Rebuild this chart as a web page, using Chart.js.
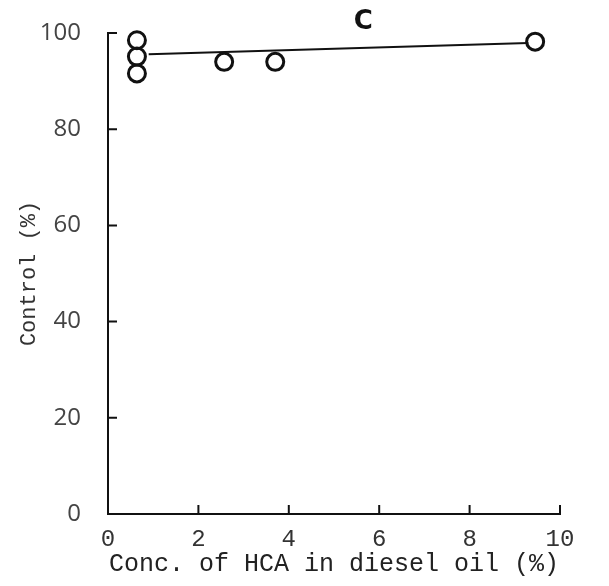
<!DOCTYPE html>
<html lang="en">
<head>
    <meta charset="UTF-8">
    <title>Control vs HCA concentration</title>
    <script src="https://cdn.jsdelivr.net/npm/chart.js"></script>
    <style>
        body {
            margin: 0;
            padding: 0;
            background-color: #fff;
        }

        .chart-box {
            width: 609px;
            height: 586px;
        }
    </style>
</head>
<body>
    <div class="chart-box">
        <canvas id="controlChart"></canvas>
    </div>

    <script>
        // observed points
        const concValues = [0.64, 0.64, 0.64, 2.57, 3.7, 9.45];
        const controlValues = [98.5, 95.1, 91.6, 94.0, 94.0, 98.2];

        // fitted line end points
        const fitConc = [0.9, 9.3];
        const fitControl = [95.6, 97.9];

        const xTicks = [0, 2, 4, 6, 8, 10];
        const yTicks = [0, 20, 40, 60, 80, 100];

        const panelLabel = 'C';

        // draws the little inward tick marks and the panel letter
        const inwardTicks = {
            id: 'inwardTicks',
            afterDraw(chart) {
                const ctx = chart.ctx;
                const x = chart.scales.x;
                const y = chart.scales.y;
                const area = chart.chartArea;
                ctx.save();
                ctx.strokeStyle = '#111';
                ctx.lineWidth = 2;
                ctx.beginPath();
                xTicks.forEach(v => {
                    if (v === 0) return;
                    const px = x.getPixelForValue(v);
                    ctx.moveTo(px, area.bottom);
                    ctx.lineTo(px, area.bottom - 9);
                });
                yTicks.forEach(v => {
                    if (v === 0) return;
                    const py = y.getPixelForValue(v);
                    ctx.moveTo(area.left, py);
                    ctx.lineTo(area.left + 9, py);
                });
                ctx.stroke();

                ctx.fillStyle = '#111';
                ctx.font = 'bold 26px "DejaVu Sans"';
                ctx.textAlign = 'center';
                ctx.textBaseline = 'middle';
                ctx.fillText(panelLabel, x.getPixelForValue(5.65), 22);
                ctx.restore();
            }
        };

        new Chart(document.getElementById('controlChart'), {
            type: 'scatter',
            data: {
                datasets: [{
                    label: 'Observed',
                    data: concValues.map((c, i) => ({ x: c, y: controlValues[i] })),
                    pointStyle: 'circle',
                    pointRadius: 8.5,
                    pointBorderWidth: 3,
                    pointBorderColor: '#111',
                    pointBackgroundColor: 'rgba(255,255,255,0)',
                    showLine: false,
                    clip: false
                }, {
                    label: 'Fit',
                    data: fitConc.map((c, i) => ({ x: c, y: fitControl[i] })),
                    showLine: true,
                    borderColor: '#111',
                    borderWidth: 2,
                    pointRadius: 0,
                    clip: false
                }]
            },
            options: {
                responsive: true,
                maintainAspectRatio: false,
                animation: false,
                layout: {
                    padding: { top: 33, right: 49, bottom: 0, left: 0 }
                },
                plugins: {
                    legend: { display: false },
                    tooltip: { enabled: false }
                },
                scales: {
                    x: {
                        type: 'linear',
                        min: 0,
                        max: 10,
                        afterBuildTicks: scale => {
                            scale.ticks = xTicks.map(v => ({ value: v }));
                        },
                        afterFit: scale => {
                            scale.height = 72;
                        },
                        grid: { display: false, drawTicks: false },
                        border: { display: true, color: '#111', width: 2 },
                        ticks: {
                            padding: 11,
                            color: '#333',
                            font: { family: '"Liberation Mono"', size: 24 },
                            maxRotation: 0
                        },
                        title: {
                            display: true,
                            text: 'Conc. of HCA in diesel oil (%)',
                            color: '#222',
                            font: { family: '"Liberation Mono"', size: 25 },
                            padding: { top: 0, bottom: 7 }
                        }
                    },
                    y: {
                        type: 'linear',
                        min: 0,
                        max: 100,
                        afterBuildTicks: scale => {
                            scale.ticks = yTicks.map(v => ({ value: v }));
                        },
                        afterFit: scale => {
                            scale.width = 108;
                            // tick padding would otherwise push the plot top down
                            scale.paddingTop = 0;
                            scale.paddingBottom = 0;
                        },
                        grid: { display: false, drawTicks: false },
                        border: { display: true, color: '#111', width: 2 },
                        ticks: {
                            padding: 27,
                            color: '#444',
                            font: { family: '"Open Sans"', size: 24 }
                        },
                        title: {
                            display: true,
                            text: 'Control (%)',
                            color: '#333',
                            font: { family: '"Liberation Mono"', size: 22 },
                            padding: { top: 16, bottom: 0 }
                        }
                    }
                }
            },
            plugins: [inwardTicks]
        });
    </script>
</body>
</html>
